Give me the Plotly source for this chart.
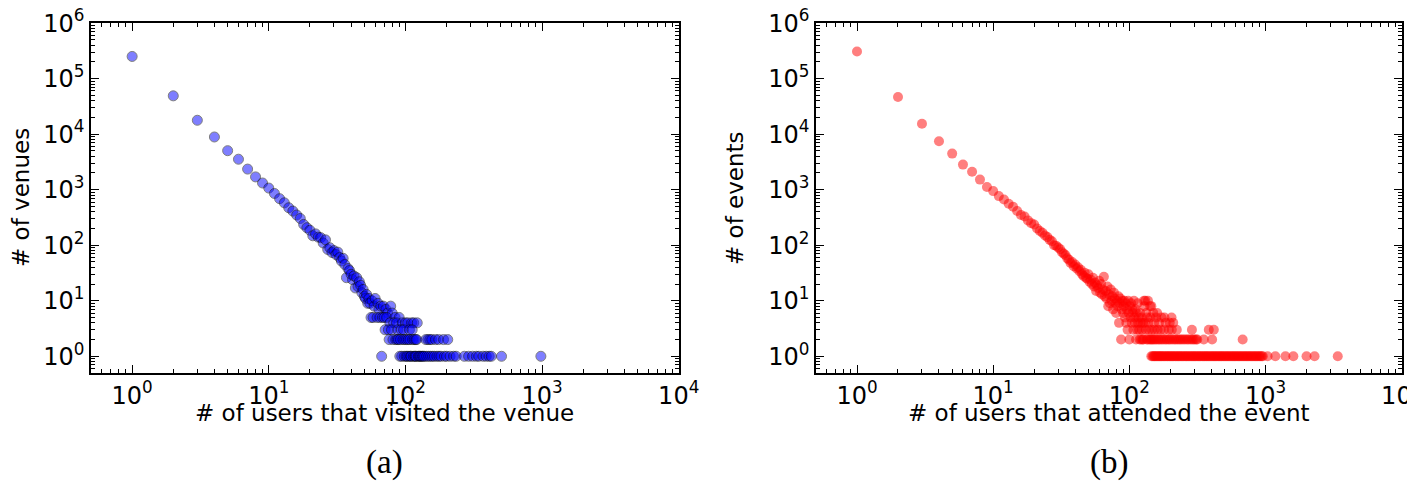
import math
import plotly.graph_objects as go
from plotly.subplots import make_subplots

# (a) venues: number of users that visited a venue -> number of venues
venue_main_x = [1, 2, 3, 4, 5, 6, 7, 8, 9, 10, 11, 12, 13, 14, 15, 16, 17, 18, 19, 20,
                21, 22, 23, 24, 25, 26, 27, 28, 29, 30, 31, 32, 33, 34, 35, 36, 37, 38, 39, 40,
                41, 42, 43, 44, 45, 46, 47, 48, 49, 50, 51, 52, 53, 54, 55, 57, 59, 60, 63, 64,
                66, 69, 72, 74, 78, 80]
venue_main_y = [251000, 49000, 17800, 8900, 5040, 3540, 2350, 1700, 1320, 1070, 855, 690, 580, 473, 412, 350, 303, 237, 207, 186,
                148, 160, 140, 137, 110, 125, 84, 90, 74, 80, 68, 75, 60, 52, 58, 45, 26, 38, 35, 30,
                24, 28, 17, 26, 18, 22, 19, 14, 16, 12, 11, 13, 9, 11, 9, 10, 8, 11, 9, 7,
                8, 8, 7, 6, 8, 6]
venue_x_5 = [56, 58, 62, 65, 68, 70, 73, 84, 90]
venue_x_4 = [77, 82, 86, 95, 100, 104, 111, 115, 122]
venue_x_3 = [71, 75, 79, 88, 93, 97, 107, 112]
venue_x_2 = [76, 81, 85, 87, 89, 92, 96, 99, 102, 105, 108, 113, 116, 119, 121,
             141, 146, 151, 156, 166, 175, 190, 204]
venue_x_1 = [67, 91, 94, 98, 101, 103, 106, 109, 110, 114, 117, 118, 120, 124, 126, 128, 130,
             133, 135, 138, 143, 148, 153, 158, 163, 170, 176, 182, 193, 200, 212, 225, 235,
             270, 290, 310, 330, 345, 370, 390, 410, 425, 505, 980]

# (b) events: number of users that attended an event -> number of events
event_main_x = list(range(1, 127))
event_main_y = [309000, 46700, 15400, 7450, 4470, 2830, 2100, 1520, 1120, 944,
                767, 667, 558, 493, 412, 350, 330, 280, 250, 237,
                200, 180, 168, 150, 140, 125, 118, 100, 98, 91,
                85, 75, 70, 66, 58, 55, 48, 50, 42, 45,
                38, 40, 34, 36, 30, 28, 32, 26, 25, 30,
                22, 24, 20, 26, 18, 21, 15, 19, 17, 23,
                14, 20, 13, 16, 27, 12, 15, 11, 18, 8,
                13, 9, 16, 10, 12, 7, 14, 11, 9, 6,
                10, 8, 12, 4, 9, 11, 2, 7, 10, 6,
                8, 10, 5, 9, 4, 7, 3, 10, 6, 2,
                8, 5, 9, 4, 7, 6, 3, 10, 5, 4,
                7, 2, 6, 3, 9, 4, 5, 3, 2, 6,
                4, 2, 5, 3, 2, 4]
event_x_10 = [128, 131, 137]
event_x_8 = [129, 142, 145]
event_x_6 = [133, 150, 160]
event_x_5 = [135, 143, 157, 172, 181, 204]
event_x_4 = [130, 138, 152, 165, 185, 198, 210]
event_x_3 = [132, 139, 146, 153, 161, 170, 180, 195, 205, 223, 288, 383, 417]
event_x_2 = [127, 134, 137, 141, 144, 147, 150, 154, 158, 163, 167, 172, 177, 183, 188,
             194, 199, 206, 213, 219, 226, 233, 240, 248, 256, 265, 273, 283, 292, 300,
             309, 315, 352, 405, 679]
event_x_1 = [145, 148, 151, 153, 156, 159, 162, 165, 168, 171, 174, 178, 181, 185, 189,
             192, 196, 200, 204, 208, 212, 217, 221, 226, 230, 235, 240, 245, 250, 256,
             261, 266, 272, 278, 284, 290, 296, 302, 308, 315, 322, 328, 335, 343, 350,
             357, 365, 372, 380, 388, 397, 405, 414, 422, 431, 440, 450, 459, 469, 478,
             489, 499, 510, 521, 532, 543, 556, 568, 580, 592, 605, 618, 632, 645, 660,
             674, 690, 705, 720, 736, 752, 769, 786, 804, 822, 840, 859, 878, 898, 918,
             937, 955, 1035, 1180, 1400, 1600, 2000, 2290, 3390]

decade_vals = [1, 10, 100, 1000, 10000, 100000, 1000000]
decade_text = ["10<sup>0</sup>", "10<sup>1</sup>", "10<sup>2</sup>", "10<sup>3</sup>",
               "10<sup>4</sup>", "10<sup>5</sup>", "10<sup>6</sup>"]


def rows(main_x, main_y, extra):
    xs, ys = list(main_x), list(main_y)
    for count, xvals in extra:
        xs += xvals
        ys += [count] * len(xvals)
    return xs, ys


vx, vy = rows(venue_main_x, venue_main_y,
              [(5, venue_x_5), (4, venue_x_4), (3, venue_x_3), (2, venue_x_2), (1, venue_x_1)])
ex, ey = rows(event_main_x, event_main_y,
              [(10, event_x_10), (8, event_x_8), (6, event_x_6), (5, event_x_5),
               (4, event_x_4), (3, event_x_3), (2, event_x_2), (1, event_x_1)])

fig = make_subplots(rows=1, cols=2)
fig.add_trace(go.Scatter(x=vx, y=vy, mode="markers", showlegend=False,
                         marker=dict(size=10, color="blue", opacity=0.5,
                                     line=dict(color="black", width=1))), row=1, col=1)
fig.add_trace(go.Scatter(x=ex, y=ey, mode="markers", showlegend=False,
                         marker=dict(size=10, color="red", opacity=0.5,
                                     line=dict(width=0))), row=1, col=2)

minor_vals = [m * 10 ** d for d in range(-1, 7) for m in range(2, 10)]
axis_common = dict(type="log", showgrid=False, zeroline=False, showline=True,
                   linecolor="black", linewidth=1.5, mirror="allticks",
                   ticks="inside", ticklen=8, tickwidth=1, tickcolor="black",
                   tickvals=decade_vals, ticktext=decade_text,
                   ticklabeloverflow="allow",
                   tickfont=dict(family="DejaVu Sans", size=24, color="black"),
                   minor=dict(ticks="inside", ticklen=4, tickwidth=1, tickcolor="black",
                              tickvals=minor_vals, showgrid=False),
                   automargin=False)
# a hair past the top decade so its tick label is kept
xr = [math.log10(0.5), 4.002]
yr = [math.log10(0.5), 6.002]
title_font = dict(family="DejaVu Sans", size=23, color="black")

# the page body pushes the figure 8px to the right, so x targets move left by 8
OFF = 8
W, H = 1415, 484
top, bottom = 15, 365
ph = bottom - top

fig.update_xaxes(axis_common, range=xr)
fig.update_yaxes(axis_common, range=yr)
panels = [("(a)", "# of users that visited the venue", "# of venues", 91, 679, 21),
          ("(b)", "# of users that attended the event", "# of events", 816, 1402, 735)]
for i, (label, xtitle, ytitle, left, right, ytx) in enumerate(panels, start=1):
    fig.update_xaxes(domain=[(left - OFF) / W, (right - OFF) / W], row=1, col=i)
    cx = ((left + right) / 2 - OFF) / W
    fig.add_annotation(text=xtitle, x=cx, xref="paper", y=(bottom - 405) / ph,
                       yref="paper", showarrow=False, xanchor="center", yanchor="middle",
                       font=title_font)
    fig.add_annotation(text=ytitle, x=(ytx - OFF) / W, xref="paper", y=(bottom - 190) / ph,
                       yref="paper", showarrow=False, xanchor="center", yanchor="middle",
                       textangle=-90, font=title_font)
    fig.add_annotation(text=label, x=cx, xref="paper", y=(bottom - 454) / ph,
                       yref="paper", showarrow=False, xanchor="center", yanchor="middle",
                       font=dict(family="Liberation Serif", size=33, color="black"))

fig.update_layout(width=W, height=H, margin=dict(l=0, r=0, t=top, b=H - bottom),
                  plot_bgcolor="white", paper_bgcolor="white")
fig.write_html("out.html")
